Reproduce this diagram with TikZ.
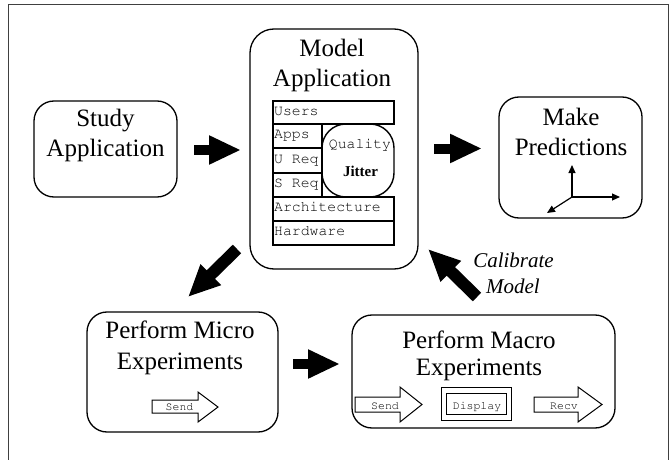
\documentclass[tikz,border=0pt]{standalone}
\usepackage[T1]{fontenc}
\usepackage{fontspec}
\setmainfont{Liberation Serif}
\setmonofont{Liberation Mono}
\newcommand\courfam{\fontencoding{T1}\fontfamily{pcr}\fontseries{m}\fontshape{n}}
\usetikzlibrary{arrows.meta,calc}
\begin{document}
\begin{tikzpicture}[x=1pt,y=-1pt,
  box/.style={draw, line width=1.3pt, rounded corners=20pt, inner sep=0pt, outer sep=0pt},
  layer/.style={draw, line width=1.4pt, inner sep=0pt, outer sep=0pt, anchor=north west},
  title/.style={font=\fontsize{25}{30}\selectfont, inner sep=0pt, anchor=base},
  mono/.style={font=\courfam\fontsize{14.8}{16}\selectfont, inner sep=0pt, anchor=base west},
  small/.style={font=\courfam\fontsize{11.5}{13}\selectfont, inner sep=0pt, anchor=base},
  block/.style={line width=10pt, -{Triangle[length=32pt,width=27pt]}},
  hollow/.style={draw, line width=1pt, line join=miter},
  axis/.style={line width=1.2pt, -{Triangle[length=8pt,width=7pt]}},
]
\useasboundingbox (0,0) rectangle (670,460);
% frame
\draw[black!75, line width=1pt] (8,475) -- (8,5) -- (668,5) -- (668,475);

% main boxes
\node[box, minimum width=143pt, minimum height=96pt] (study) at (105.5,149) {};
\node[box, minimum width=168pt, minimum height=240pt, rounded corners=24pt] (model) at (334,149) {};
\node[box, minimum width=143pt, minimum height=121pt] (pred) at (570.5,157.5) {};
\node[box, minimum width=191pt, minimum height=120pt] (micro) at (182.5,372) {};
\node[box, minimum width=263pt, minimum height=113pt] (macro) at (483.5,371.5) {};

% titles
\node[title] (st1) at (105.5,127) {Study};
\node[title] (st2) at (105.5,157) {Application};
\node[title] (mt1) at (332,57) {Model};
\node[title] (mt2) at (332,87) {Application};
\node[title] (pt1) at (571,125) {Make};
\node[title] (pt2) at (571,155) {Predictions};
\node[title] (mi1) at (180,338) {Perform Micro};
\node[title] (mi2) at (180,369) {Experiments};
\node[title] (ma1) at (479,348) {Perform Macro};
\node[title] (ma2) at (479,375) {Experiments};

% model layers
\node[layer, minimum width=121pt, minimum height=23pt] (users) at (273,101) {};
\node[layer, minimum width=49pt, minimum height=24pt] (apps) at (273,124) {};
\node[layer, minimum width=49pt, minimum height=25pt] (ureq) at (273,148) {};
\node[layer, minimum width=49pt, minimum height=24pt] (sreq) at (273,173) {};
\node[layer, minimum width=72pt, minimum height=73pt, rounded corners=24pt] (qual) at (322,124) {};
\node[layer, minimum width=121pt, minimum height=24pt] (arch) at (273,197) {};
\node[layer, minimum width=121pt, minimum height=24pt] (hw) at (273,221) {};

\node[mono] (lusers) at ($(users.north west)+(1,14.5)$) {Users};
\node[mono] (lapps) at ($(apps.north west)+(1,14.5)$) {Apps};
\node[mono] (lureq) at ($(ureq.north west)+(1,15.5)$) {U Req};
\node[mono] (lsreq) at ($(sreq.north west)+(1,14.5)$) {S Req};
\node[mono] (larch) at ($(arch.north west)+(1,14.5)$) {Architecture};
\node[mono] (lhw) at ($(hw.north west)+(1,14.5)$) {Hardware};
\node[mono, anchor=base] (lqual) at (360,148) {Quality};
\node[font=\bfseries\fontsize{15}{17}\selectfont, inner sep=0pt, anchor=base] (ljit) at (360.5,176) {Jitter};

% block arrows
\coordinate (a1s) at (194,150);  \coordinate (a1e) at (241,150);
\coordinate (a2s) at (434,148.5); \coordinate (a2e) at (482,148.5);
\coordinate (a3s) at (237,249);  \coordinate (a3e) at (188,297);
\coordinate (a4s) at (477,297);  \coordinate (a4e) at (428,249);
\coordinate (a5s) at (293,364);  \coordinate (a5e) at (340,364);
\draw[block] (a1s) -- (a1e);
\draw[block] (a2s) -- (a2e);
\draw[block, line width=12pt] (a3s) -- (a3e);
\draw[block, line width=12pt] (a4s) -- (a4e);
\draw[block] (a5s) -- (a5e);

\node[font=\itshape\fontsize{21}{26}\selectfont, inner sep=0pt, anchor=base] (cal1) at (513.5,267) {Calibrate};
\node[font=\itshape\fontsize{21}{26}\selectfont, inner sep=0pt, anchor=base] (cal2) at (513,293) {Model};

% axes
\coordinate (o) at (572,197);
\coordinate (ax) at (620,197);
\coordinate (ay) at (572,165);
\coordinate (az) at (547,213);
\draw[axis] (o) -- (ay);
\draw[axis] (o) -- (ax);
\draw[axis] (o) -- (az);

% micro send
\draw[hollow] (152,400) -- (198,400) -- (198,392) -- (218,407) -- (198,422) -- (198,413) -- (152,413) -- cycle;
\node[small] (ms) at (179.5,410) {Send};

% macro send / display / recv
\draw[hollow] (355,397) -- (400,397) -- (400,387) -- (422,404.5) -- (400,422) -- (400,412) -- (355,412) -- cycle;
\node[small] (mas) at (385,409) {Send};
\node[draw, line width=1pt, inner sep=0pt, minimum width=70pt, minimum height=33pt] (dispo) at (476,403.5) {};
\node[draw, line width=1pt, inner sep=0pt, minimum width=60pt, minimum height=21pt] (dispi) at (476,403.5) {};
\node[small] (disp) at (477,409) {Display};
\draw[hollow] (534,397) -- (578,397) -- (578,387) -- (602,404.5) -- (578,422) -- (578,412) -- (534,412) -- cycle;
\node[small] (rcv) at (564,409) {Recv};
\end{tikzpicture}
\end{document}
